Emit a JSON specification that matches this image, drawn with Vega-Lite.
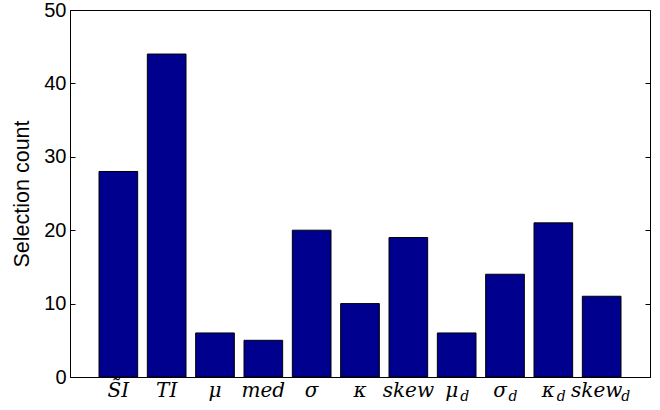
{
  "$schema": "https://vega.github.io/schema/vega-lite/v6.json",
  "width": 580,
  "height": 367,
  "autosize": {"type": "none"},
  "padding": {"left": 70, "top": 10, "right": 10, "bottom": 33},
  "background": "white",
  "config": {
    "view": {"stroke": "black", "strokeWidth": 1},
    "axis": {"domainColor": "black", "tickColor": "black", "labelColor": "black", "titleColor": "black", "grid": false}
  },
  "data": {
    "values": [
      {"name": "S̃I", "count": 28},
      {"name": "TI", "count": 44},
      {"name": "μ", "count": 6},
      {"name": "med", "count": 5},
      {"name": "σ", "count": 20},
      {"name": "κ", "count": 10},
      {"name": "skew", "count": 19},
      {"name": "μ_d", "count": 6},
      {"name": "σ_d", "count": 14},
      {"name": "κ_d", "count": 21},
      {"name": "skew_d", "count": 11}
    ]
  },
  "layer": [
    {
      "mark": {"type": "bar", "color": "#00008F", "stroke": "black", "strokeWidth": 1},
      "encoding": {
        "x": {
          "field": "name", "type": "nominal", "sort": null,
          "scale": {"paddingInner": 0.2, "paddingOuter": 0.6},
          "axis": {
            "orient": "bottom", "title": null, "ticks": false,
            "labelAngle": 0, "labelOverlap": false, "labelLimit": 0,
            "labelFont": "DejaVu Serif", "labelFontStyle": "italic", "labelFontSize": 20,
            "labelPadding": 3,
            "labelExpr": "split(datum.value, '_')[0]",
            "labelOffset": {"condition": {"test": "indexof(datum.value, '_') >= 0", "value": -5}, "value": 0}
          }
        },
        "y": {
          "field": "count", "type": "quantitative",
          "scale": {"domain": [0, 50], "nice": false},
          "axis": {
            "orient": "left", "title": "Selection count", "values": [0, 10, 20, 30, 40, 50],
            "tickSize": -5, "labelPadding": 9,
            "labelFont": "Liberation Sans", "labelFontSize": 20,
            "titleFont": "Liberation Sans", "titleFontSize": 21.5, "titleFontWeight": "normal",
            "titlePadding": 10
          }
        }
      }
    },
    {
      "mark": {"type": "bar", "opacity": 0},
      "encoding": {
        "x": {
          "field": "name", "type": "nominal", "sort": null,
          "axis": {
            "orient": "bottom", "title": null, "ticks": false, "domain": false,
            "labelAngle": 0, "labelOverlap": false, "labelLimit": 0,
            "labelFont": "DejaVu Serif", "labelFontStyle": "italic", "labelFontSize": 14,
            "labelPadding": 12,
            "labelExpr": "indexof(datum.value, '_') >= 0 ? 'd' : ''",
            "labelOffset": {"condition": {"test": "datum.value == 'skew_d'", "value": 24}, "value": 8}
          }
        },
        "y": {
          "field": "count", "type": "quantitative",
          "axis": {
            "orient": "right", "title": null, "labels": false, "values": [0, 10, 20, 30, 40, 50],
            "tickSize": -5
          }
        }
      }
    }
  ],
  "resolve": {"axis": {"x": "independent", "y": "independent"}}
}
